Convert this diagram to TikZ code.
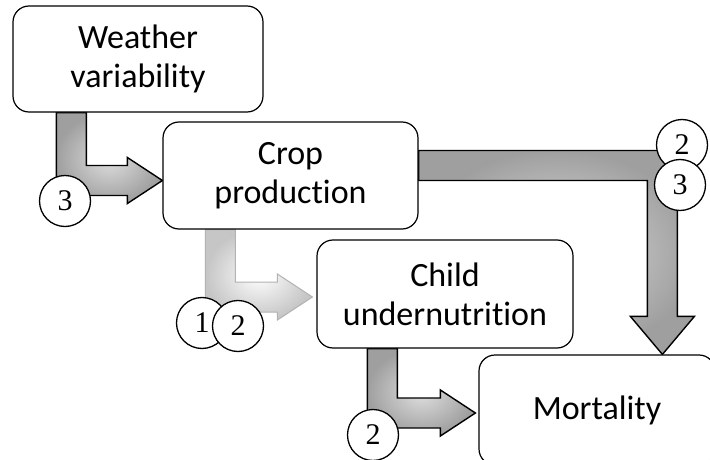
\documentclass[tikz,border=0pt]{standalone}
\usepackage{fontspec}
\setmainfont{Carlito}[Ligatures=NoCommon]
\newfontfamily\numfont{Liberation Serif}
\usetikzlibrary{calc, backgrounds}

% L-shaped block arrows: #1 style, #2 top of the shaft, #3 tip
\newcommand{\downright}[3]{%
  \path[#1] let \p1=(#2), \p2=(#3) in
    (\x1-15pt,\y1) -- (\x1+15pt,\y1) -- (\x1+15pt,\y2+15pt)
    -- (\x2-35pt,\y2+15pt) -- (\x2-35pt,\y2+23pt) -- (\p2)
    -- (\x2-35pt,\y2-23pt) -- (\x2-35pt,\y2-15pt)
    -- (\x1-15pt,\y2-15pt) -- cycle;}
\newcommand{\rightdown}[3]{%
  \path[#1] let \p1=(#2), \p2=(#3) in
    (\x1,\y1+15pt) -- (\x2+15pt,\y1+15pt) -- (\x2+15pt,\y2+38pt)
    -- (\x2+32pt,\y2+38pt) -- (\p2) -- (\x2-32pt,\y2+38pt)
    -- (\x2-15pt,\y2+38pt) -- (\x2-15pt,\y1-15pt) -- (\x1,\y1-15pt) -- cycle;}

\tikzset{
  box/.style={draw, line width=1.2pt, rounded corners=16pt, fill=white,
    align=center, font=\fontsize{34}{39}\selectfont},
  num/.style={circle, draw, line width=1.3pt, fill=white, minimum size=51pt,
    inner sep=0pt, font=\numfont\fontsize{30}{30}\selectfont},
  fat/.style={draw=black, line width=1.4pt, inner color=gray!25, outer color=gray!75},
  pale/.style={draw=gray!60, line width=1pt, inner color=white, outer color=gray!45},
}

\begin{document}
\begin{tikzpicture}[x=1pt, y=-1pt]
    \useasboundingbox (0,0) rectangle (710,460);
    \clip (0,0) rectangle (710,460);
    % the four boxes
    \node[box, minimum width=250pt, minimum height=106pt] (weather) at (138,59) {Weather\\variability};
    \node[box, minimum width=255pt, minimum height=107pt] (crop) at (290.5,175.5) {Crop\\production};
    \node[box, minimum width=256pt, minimum height=108pt] (child) at (445,294) {Child\\undernutrition};
    \node[box, minimum width=236pt, minimum height=110pt] (mort) at (597,410) {Mortality};
    % block arrows behind the boxes
    \begin{scope}[on background layer]
        \downright{fat}{$(weather.south west)+(59,0)$}{$(crop.west)+(0,5)$}
        \downright{pale}{$(crop.south west)+(58,0)$}{$(child.west)+(-4,3)$}
        \downright{fat}{$(child.south west)+(66,0)$}{$(mort.west)+(-3,3)$}
        \rightdown{fat}{$(crop.east)+(0,-10)$}{$(mort.north west)+(184,0)$}
    \end{scope}
    % numbered circles
    \node[num] (n3a) at (65,201) {3};
    \node[num] (n1)  at (202,323) {1};
    \node[num] (n2a) at (238,326) {2};
    \node[num] (n2b) at (373,435) {2};
    \node[num] (n2c) at (682,145) {2};
    \node[num] (n3b) at (680,185) {3};
\end{tikzpicture}
\end{document}
